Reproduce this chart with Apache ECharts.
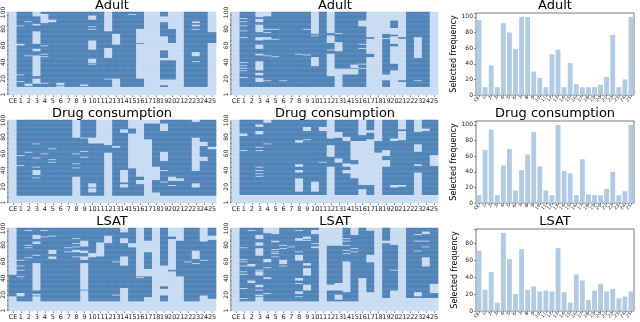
<!DOCTYPE html>
<html>
<head>
<meta charset="utf-8">
<script src="https://cdn.jsdelivr.net/npm/echarts@6/dist/echarts.min.js"></script>
<style>
  html, body { margin: 0; padding: 0; background: #fff; }
  #chart { width: 640px; height: 322px; }
</style>
</head>
<body>
<div id="chart"></div>
<script>
// column labels shared by all panels
var features = ['CE', '1', '2', '3', '4', '5', '6', '7', '8', '9', '10', '11', '12',
  '13', '14', '15', '16', '17', '18', '19', '20', '21', '22', '23', '24', '25']
var rows = []
for (var i = 1; i <= 100; i++) rows.push(String(i))
var rowTicks = ['1', '20', '40', '60', '80', '100']

// selected rows per column, as [from, to] runs of dark cells
var adultA = [
  [], [[11, 16], [18, 24], [26, 60], [63, 83], [85, 100]], [[11, 11], [15, 47], [49, 88], [90, 100]],
  [[11, 14], [21, 23], [49, 53], [57, 62], [78, 84], [87, 95]], [[11, 14], [16, 46], [48, 49], [51, 59], [61, 87], [99, 100]],
  [[11, 88], [92, 100]], [[12, 12], [16, 100]], [[11, 100]], [[11, 100]], [[11, 11], [14, 100]],
  [[11, 37], [39, 39], [45, 55], [67, 79], [81, 82], [84, 91], [97, 100]], [[11, 100]], [[11, 19], [21, 45], [58, 77]],
  [[21, 61], [75, 100]], [[11, 100]], [[11, 97], [99, 100]], [[11, 20], [63, 63], [81, 100]], [], [],
  [[11, 12], [20, 42], [46, 54], [72, 88], [96, 100]], [[20, 42], [64, 80]], [], [[11, 100]],
  [[11, 40], [42, 47], [53, 79], [81, 83], [86, 87], [90, 100]], [[11, 100]], [[64, 76]]
]
var adultB = [
  [], [[11, 21], [23, 29], [31, 32], [34, 35], [37, 39], [41, 69], [71, 77], [79, 83], [85, 88], [90, 92], [94, 100]], [[11, 100]],
  [[11, 16], [22, 24], [28, 30], [42, 48], [51, 56], [62, 66], [71, 76], [86, 88], [93, 94]],
  [[11, 17], [19, 47], [49, 67], [71, 75], [77, 79], [81, 95]], [[11, 46], [48, 67], [69, 79], [81, 100]],
  [[11, 17], [19, 100]], [[11, 100]], [[11, 49], [51, 100]], [[11, 48], [50, 79], [81, 100]],
  [[11, 35], [47, 71], [73, 74]], [[11, 100]], [[11, 23], [51, 54], [56, 63], [73, 75]],
  [[33, 53], [65, 74], [76, 100]], [[11, 25], [33, 100]], [[11, 25], [33, 33], [38, 100]],
  [[11, 32], [34, 37], [39, 56], [58, 61], [63, 83], [91, 100]], [[47, 50], [69, 70]], [],
  [[11, 18], [26, 68], [70, 74]], [[31, 38], [60, 62], [72, 73], [82, 90]], [[17, 18], [69, 70]], [[11, 100]],
  [[11, 17], [19, 45], [71, 100]], [[11, 100]], []
]
var drugA = [
  [], [[10, 45], [47, 57], [59, 100]], [[10, 61], [63, 100]], [[10, 30], [32, 34], [41, 43], [45, 54], [56, 71], [73, 100]],
  [[10, 59], [61, 100]], [[10, 49], [51, 52], [54, 65], [67, 100]], [[10, 100]], [[10, 100]],
  [[33, 42], [44, 47], [49, 59], [61, 79]], [[10, 55], [57, 62], [64, 78], [80, 100]],
  [[10, 13], [19, 19], [25, 72], [80, 100]], [[10, 72]], [[62, 70]], [[10, 67], [70, 100]],
  [[10, 19], [24, 25], [41, 85], [90, 100]], [[10, 42], [85, 90]], [[10, 23], [29, 32]], [[78, 96]],
  [[14, 28], [45, 96]], [[10, 25], [27, 39], [41, 51], [63, 87], [97, 100]], [[10, 21], [23, 27], [33, 100]],
  [[10, 27], [31, 100]], [[10, 100]], [[10, 19], [25, 39], [80, 98]], [[10, 51], [57, 69], [75, 100]], [[10, 65], [69, 100]]
]
var drugB = [
  [], [[11, 63], [65, 81], [85, 100]], [[11, 100]],
  [[11, 32], [34, 35], [37, 39], [41, 43], [45, 63], [65, 67], [69, 83], [88, 92], [96, 100]],
  [[11, 71], [73, 97]], [[11, 100]], [[11, 100]], [[11, 100]], [[11, 14], [31, 37], [41, 44], [48, 73], [77, 100]],
  [[11, 76], [78, 87], [93, 100]], [[11, 14], [27, 100]], [[11, 49], [51, 87], [93, 100]], [[45, 56], [71, 78]],
  [[11, 49], [55, 79], [87, 100]], [[11, 36], [41, 44], [49, 75], [81, 100]], [[11, 30], [48, 52], [76, 100]],
  [[18, 22], [76, 82]], [[11, 22], [78, 85], [89, 100]], [[62, 75]], [[11, 44], [53, 57], [65, 100]],
  [[11, 19], [23, 75], [79, 100]], [[11, 20], [23, 76], [88, 89]], [[11, 100]], [[38, 45], [48, 62], [72, 86]],
  [[11, 87], [91, 100]], [[11, 45], [59, 100]]
]
var lsatA = [
  [[19, 44]], [[13, 18], [23, 41], [43, 49], [51, 54], [56, 61], [63, 100]], [[13, 64], [66, 76], [78, 79], [81, 97], [99, 100]],
  [[19, 19], [22, 25], [59, 67], [69, 81], [85, 87], [93, 100]], [[13, 89], [91, 97], [99, 100]],
  [[13, 63], [67, 69], [75, 90], [92, 100]], [[13, 100]], [[13, 71], [73, 76], [78, 100]],
  [[13, 65], [67, 71], [75, 77], [79, 81], [83, 87], [89, 100]], [[26, 26], [59, 62], [67, 70], [74, 78], [86, 100]],
  [[13, 65], [71, 100]], [[13, 66], [84, 100]], [[13, 82], [92, 100]], [[13, 19], [21, 59], [61, 100]],
  [[29, 55], [67, 82], [89, 95]], [[13, 77], [83, 100]], [[13, 40], [42, 42]], [[18, 42], [52, 71], [86, 100]], [],
  [[13, 19], [28, 30], [56, 100]], [[49, 50], [88, 90]], [[43, 85]], [[13, 59], [61, 100]],
  [[13, 57], [59, 63], [74, 100]], [[20, 61], [63, 84]], [[16, 86], [92, 100]]
]
var lsatB = [
  [], [[13, 15], [17, 27], [29, 44], [46, 47], [49, 54], [56, 59], [61, 62], [64, 76], [78, 100]],
  [[13, 34], [38, 54], [58, 97], [99, 100]],
  [[18, 18], [21, 25], [27, 29], [33, 43], [49, 49], [51, 67], [77, 79], [84, 87], [93, 100]],
  [[13, 21], [23, 39], [42, 52], [54, 59], [64, 94]], [[13, 65], [67, 69], [71, 71], [73, 74], [76, 83], [86, 93]],
  [[13, 54], [56, 57], [63, 75], [77, 79], [81, 100]], [[13, 77], [79, 100]],
  [[13, 17], [19, 21], [25, 33], [35, 37], [41, 61], [69, 71], [73, 85], [89, 97], [99, 100]],
  [[13, 25], [33, 43], [53, 55], [59, 85], [87, 87], [91, 100]], [[13, 76], [79, 81], [83, 93], [99, 100]], [],
  [[13, 25], [33, 79]], [[13, 14], [21, 25], [35, 79]],
  [[13, 23], [61, 69], [71, 73], [75, 79], [81, 84], [86, 87], [89, 100]], [[13, 71], [73, 75], [77, 92]],
  [[41, 100]], [[24, 59], [69, 97]], [], [[17, 82], [86, 100]], [[26, 49], [51, 80]], [], [[17, 100]],
  [[17, 18], [24, 72], [74, 84], [86, 92], [94, 100]], [[17, 54], [66, 77], [79, 84], [86, 93], [97, 100]],
  [[17, 22], [34, 100]]
]

// selected frequency per feature
var adultFreq = [96, 10, 38, 10, 92, 80, 59, 100, 100, 30, 22, 10, 52, 58, 10, 41, 14, 10, 10, 10, 13, 23, 77, 10, 20, 100]
var drugFreq = [10, 68, 94, 10, 48, 69, 16, 42, 62, 91, 47, 16, 10, 100, 41, 38, 10, 56, 11, 10, 10, 18, 40, 10, 15, 100]
var lsatFreq = [71, 25, 46, 10, 92, 61, 20, 73, 25, 29, 23, 24, 23, 74, 22, 10, 43, 36, 13, 24, 32, 23, 26, 15, 17, 23]

var titles = ['Adult', 'Drug consumption', 'LSAT']
var heatSets = [[adultA, adultB], [drugA, drugB], [lsatA, lsatB]]
var freqSets = [adultFreq, drugFreq, lsatFreq]
var freqMax = [105, 105, 96.6]

var FONT = 'DejaVu Sans'
var DARK = '#4a7fb5'
var LIGHT = '#c6dbf3'
var BAR = '#b1cbe4'

function toCells (runs) {
  var out = []
  runs.forEach(function (col, c) {
    for (var r = 1; r <= 100; r++) {
      var on = col.some(function (s) { return r >= s[0] && r <= s[1] })
      out.push([c, r - 1, on ? 1 : 0])
    }
  })
  return out
}

var grids = []
var xAxes = []
var yAxes = []
var series = []
var titleList = []
var heatIdx = []

var heatBoxes = [{ left: 8, width: 208 }, { left: 232, width: 206 }]
var barBox = { left: 476, width: 158 }

function addRow (row) {
  var rowTop = 12 + 108 * row
  // two heatmaps
  heatBoxes.forEach(function (b, k) {
    var gi = grids.length
    grids.push({ left: b.left, width: b.width, top: rowTop, height: 83 })
    xAxes.push({
      type: 'category', gridIndex: gi, data: features, position: 'bottom',
      axisLine: { show: false },
      axisTick: { show: true, length: 2, alignWithLabel: true, lineStyle: { color: '#444', width: 0.6 } },
      axisLabel: { interval: 0, fontSize: 6.5, fontFamily: FONT, color: '#222', margin: 3 }
    })
    yAxes.push({
      type: 'category', gridIndex: gi, data: rows,
      axisLine: { show: false },
      axisTick: { show: true, interval: 0, length: 2, alignWithLabel: true, lineStyle: { color: '#555', width: 0.5 } },
      axisLabel: {
        rotate: 90, fontSize: 6, fontFamily: FONT, color: '#222', margin: 3,
        interval: function (idx, val) { return rowTicks.indexOf(val) >= 0 }
      }
    })
    heatIdx.push(series.length)
    series.push({
      type: 'heatmap', xAxisIndex: gi, yAxisIndex: gi,
      data: toCells(heatSets[row][k]),
      itemStyle: { borderColor: 'rgba(255,255,255,0.12)', borderWidth: 0.3 },
      emphasis: { disabled: true }
    })
    titleList.push({
      text: titles[row], left: b.left + b.width / 2, top: rowTop - 13, textAlign: 'center', padding: 0,
      textStyle: { fontFamily: FONT, fontSize: 13, fontWeight: 'normal', color: '#000' }
    })
  })

  // frequency bars
  var bi = grids.length
  grids.push({ left: barBox.left, width: barBox.width, top: rowTop + 1, height: 82, show: true, borderColor: '#555', borderWidth: 0.8, backgroundColor: 'transparent' })
  xAxes.push({
    type: 'category', gridIndex: bi, data: features,
    axisLine: { show: false },
    axisTick: { show: true, length: 2, alignWithLabel: true, lineStyle: { color: '#444', width: 0.6 } },
    axisLabel: { interval: 0, rotate: 45, fontSize: 4.5, fontFamily: FONT, color: '#222', margin: 2 }
  })
  yAxes.push({
    type: 'value', gridIndex: bi, min: 0, max: freqMax[row], interval: 20,
    name: 'Selected frequency', nameLocation: 'middle', nameGap: 17, nameRotate: 90,
    nameTextStyle: { fontFamily: FONT, fontSize: 8, color: '#000' },
    splitLine: { show: false },
    axisLine: { show: false },
    axisTick: { show: true, length: 2, lineStyle: { color: '#444', width: 0.6 } },
    axisLabel: {
      fontSize: 6, fontFamily: FONT, color: '#222', margin: 3,
      formatter: function (v) { return v % 20 === 0 ? String(v) : '' }
    }
  })
  series.push({
    type: 'bar', xAxisIndex: bi, yAxisIndex: bi, data: freqSets[row],
    barCategoryGap: '20%',
    itemStyle: { color: BAR },
    emphasis: { disabled: true }
  })
  titleList.push({
    text: titles[row], left: barBox.left + barBox.width / 2, top: rowTop - 13, textAlign: 'center', padding: 0,
    textStyle: { fontFamily: FONT, fontSize: 13, fontWeight: 'normal', color: '#000' }
  })
}
for (var row = 0; row < 3; row++) addRow(row)

var chart = echarts.init(document.getElementById('chart'), null, { renderer: 'canvas' })
chart.setOption({
  animation: false,
  title: titleList,
  grid: grids,
  xAxis: xAxes,
  yAxis: yAxes,
  visualMap: {
    type: 'piecewise', show: false, seriesIndex: heatIdx, dimension: 2,
    pieces: [{ min: 0.5, color: DARK }, { max: 0.5, color: LIGHT }]
  },
  series: series
})
</script>
</body>
</html>
